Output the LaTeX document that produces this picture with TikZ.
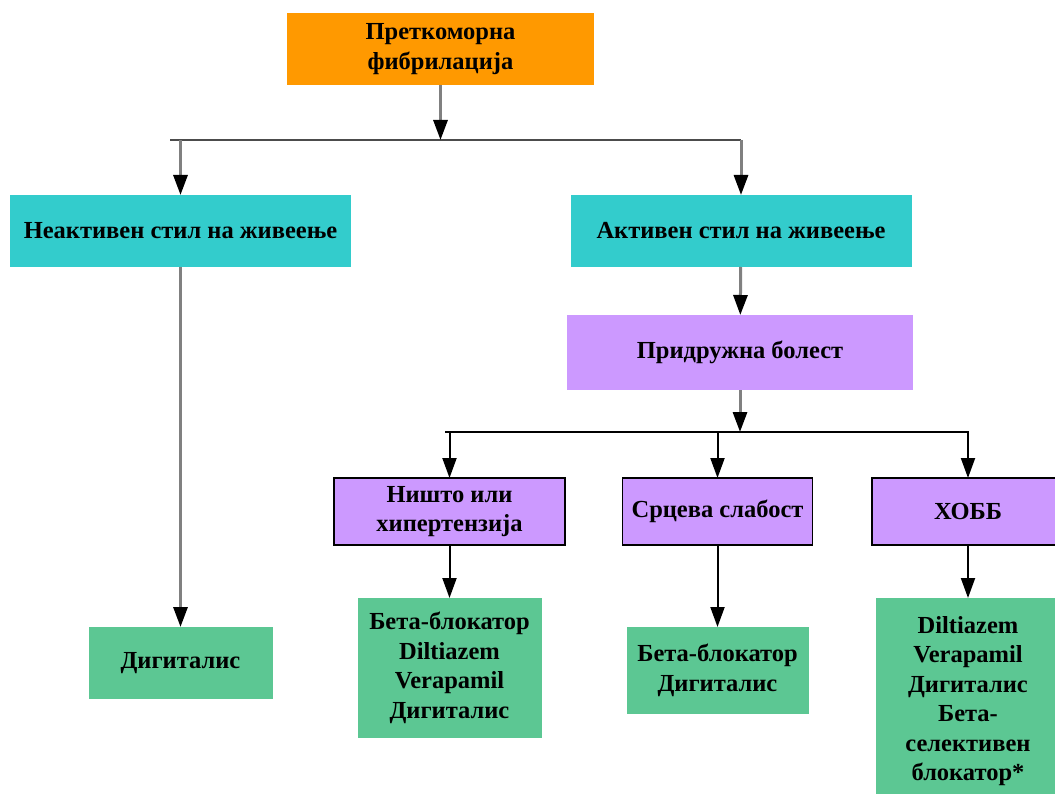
\documentclass[tikz,border=0pt]{standalone}
\usepackage{fontspec}
\setmainfont{Liberation Serif}
\usetikzlibrary{arrows.meta}
\definecolor{afiborange}{HTML}{FF9900}
\definecolor{lifeteal}{HTML}{33CCCC}
\definecolor{illviolet}{HTML}{CC99FF}
\definecolor{druggreen}{HTML}{5CC793}
\begin{document}
\begin{tikzpicture}[x=1pt, y=-1pt,
  box/.style={inner sep=0pt, outer sep=0pt, align=center,
    font=\fontsize{24.5}{29.5}\selectfont\bfseries},
  lifebox/.style={box, fill=lifeteal, minimum width=341pt, minimum height=72pt},
  illbox/.style={box, fill=illviolet, draw=black, line width=1.5pt, minimum height=67pt},
  drugbox/.style={box, fill=druggreen, minimum width=184pt},
  tip/.style={-{Triangle[black, width=14pt, length=20pt]}},
  grayline/.style={tip, draw=black!50, line width=3pt},
  blackline/.style={tip, draw=black, line width=2pt},
  bar/.style={draw=black!70, line width=2.5pt}]
  \useasboundingbox (0,0) rectangle (1055,794);
  \clip (0,0) rectangle (1055,794);

  % Boxes
  \node[box, fill=afiborange, minimum width=307pt, minimum height=72pt] (afib) at (440.5,49) {Преткоморна\\фибрилација};
  \node[lifebox] (inactive) at (180.5,231) {Неактивен стил на живеење};
  \node[lifebox] (active) at (741,231) {Активен стил на живеење};
  \node[box, fill=illviolet, minimum width=346pt, minimum height=75pt] (comorb) at (740,352.5) {Придружна болест};
  \node[illbox, minimum width=231pt] (none) at (449.5,511.5) {Ништо или\\хипертензија};
  \node[illbox, minimum width=190pt] (hf) at (717.5,511.5) {Срцева слабост};
  \node[illbox, minimum width=192pt] (copd) at (968,511.5) {ХОББ};
  \node[drugbox, minimum height=72pt] (digit) at (180.5,663) {Дигиталис};
  \node[drugbox, minimum height=140pt] (drugsnone) at (449.5,668) {Бета-блокатор\\Diltiazem\\Verapamil\\Дигиталис};
  \node[drugbox, minimum width=182pt, minimum height=87pt] (drugshf) at (717.5,670.5) {Бета-блокатор\\Дигиталис};
  \node[drugbox, minimum height=206pt] (drugscopd) at (968,701) {Diltiazem\\Verapamil\\Дигиталис\\Бета-\\селективен\\блокатор*};

  % Bars
  \coordinate (bar1) at (440.5,140);
  \coordinate (bar1l) at (170,140);
  \coordinate (bar1r) at (741,140);
  \coordinate (bar2) at (740,432);
  \coordinate (bar2l) at (445,432);
  \coordinate (bar2r) at (969,432);
  \draw[bar] (bar1l) -- (bar1r);
  \draw[bar, draw=black] (bar2l) -- (bar2r);

  % Connectors
  \draw[grayline] (afib) -- (bar1);
  \draw[grayline] (inactive.north |- bar1) -- (inactive);
  \draw[grayline] (active.north |- bar1) -- (active);
  \draw[grayline] (inactive) -- (digit);
  \draw[grayline] (active) -- (comorb);
  \draw[grayline] (comorb) -- (bar2);
  \draw[blackline] (none.north |- bar2) -- (none);
  \draw[blackline] (hf.north |- bar2) -- (hf);
  \draw[blackline] (copd.north |- bar2) -- (copd);
  \draw[blackline] (none) -- (drugsnone);
  \draw[blackline] (hf) -- (drugshf);
  \draw[blackline] (copd) -- (drugscopd);
\end{tikzpicture}
\end{document}
